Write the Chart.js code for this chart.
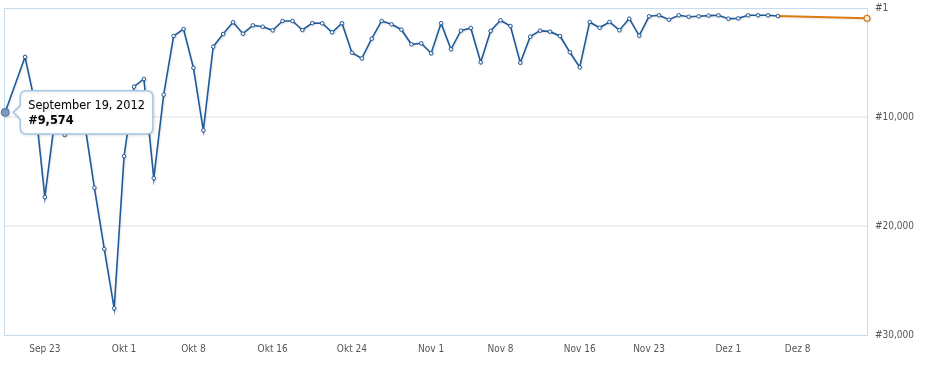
<!DOCTYPE html>
<html>
<head>
<meta charset="utf-8">
<script src="https://cdn.jsdelivr.net/npm/chart.js@4"></script>
<style>
  html, body { margin: 0; padding: 0; background: #fff; }
  #wrap { width: 938px; height: 374px; }
</style>
</head>
<body>
<div id="wrap"><canvas id="graficoRang" width="938" height="374"></canvas></div>
<script>
// Daily rank, one value per day from Sep 19, 2012 (null = no data that day)
const startDate = new Date(2012, 8, 19);
const rankDaily = [
  9574, null, 4495, 8700, 17340, 10300, 11650, 9200, 10460, 16480,
  22110, 27550, 13600, 7220, 6510, 15620, 7950, 2570, 1930, 5480,
  11220, 3550, 2390, 1310, 2360, 1590, 1720, 2050, 1190, 1190,
  2020, 1380, 1400, 2230, 1400, 4100, 4620, 2820, 1190, 1500,
  1990, 3330, 3240, 4160, 1400, 3790, 2080, 1830, 4980, 2110,
  1130, 1650, 5020, 2630, 2080, 2170, 2570, 4060, 5440, 1280,
  1810, 1280, 2040, 980, 2540, 760, 670, 1070, 670, 800,
  760, 700, 670, 980, 950, 670, 670, 670, 740
];
// Forecast segment (orange)
const forecastDays = [78, 87];
const forecastRank = [740, 950];

// X axis ticks (day offsets from start) and their labels
const tickDays = [4, 12, 19, 27, 35, 43, 50, 58, 65, 73, 80];
const tickLabels = ['Sep 23', 'Okt 1', 'Okt 8', 'Okt 16', 'Okt 24', 'Nov 1', 'Nov 8', 'Nov 16', 'Nov 23', 'Dez 1', 'Dez 8'];
// Y axis ticks
const rankTicks = [1, 10000, 20000, 30000];

const monthNames = ['January', 'February', 'March', 'April', 'May', 'June', 'July',
  'August', 'September', 'October', 'November', 'December'];

const fontFam = "'DejaVu Sans Condensed', 'DejaVu Sans', sans-serif";

function fechaLarga(day) {
  const d = new Date(startDate.getFullYear(), startDate.getMonth(), startDate.getDate() + day);
  return monthNames[d.getMonth()] + ' ' + d.getDate() + ', ' + d.getFullYear();
}

function formatoRang(v) {
  return '#' + Math.round(v).toLocaleString('en-US');
}

// border around the plot area + soft shadow under the lines
const marcoPlugin = {
  id: 'marco',
  beforeDatasetsDraw(chart) {
    const { ctx } = chart;
    ctx.save();
    ctx.shadowColor = 'rgba(0,0,0,0.10)';
    ctx.shadowBlur = 2;
    ctx.shadowOffsetX = 1;
    ctx.shadowOffsetY = 1;
  },
  afterDatasetsDraw(chart) {
    chart.ctx.restore();
  },
  beforeTooltipDraw(chart) {
    const { ctx } = chart;
    ctx.save();
    ctx.shadowColor = 'rgba(0,0,0,0.10)';
    ctx.shadowBlur = 3;
    ctx.shadowOffsetX = 1;
    ctx.shadowOffsetY = 1;
  },
  afterTooltipDraw(chart) {
    chart.ctx.restore();
  },
  beforeDraw(chart) {
    const { ctx, chartArea: a } = chart;
    ctx.save();
    ctx.strokeStyle = '#c4dcef';
    ctx.lineWidth = 1;
    ctx.strokeRect(Math.round(a.left) - 0.5, Math.round(a.top) + 0.5,
      Math.round(a.right - a.left) + 1, Math.round(a.bottom - a.top));
    ctx.restore();
  }
};

const ctx = document.getElementById('graficoRang').getContext('2d');

const chart = new Chart(ctx, {
  type: 'line',
  data: {
    datasets: [
      {
        label: 'Rang',
        data: rankDaily.map((v, i) => ({ x: i, y: v })),
        spanGaps: true,
        borderColor: '#1f5a99',
        borderWidth: 1.6,
        backgroundColor: '#ffffff',
        pointRadius: 1.8,
        pointBorderWidth: 1,
        pointBorderColor: '#1f5a99',
        pointBackgroundColor: '#ffffff',
        pointHoverRadius: 4,
        pointHoverBorderWidth: 1,
        pointHoverBackgroundColor: '#7c9cc2',
        pointHoverBorderColor: '#4f77a6',
        tension: 0,
        clip: false
      },
      {
        label: 'Prognose',
        data: forecastRank.map((v, i) => ({ x: forecastDays[i], y: v })),
        borderColor: '#de7a10',
        borderWidth: 2,
        pointRadius: [0, 3],
        pointBorderWidth: 1.2,
        pointBorderColor: '#de7a10',
        pointBackgroundColor: '#ffffff',
        tension: 0,
        clip: false
      }
    ]
  },
  options: {
    responsive: false,
    animation: false,
    events: [],
    layout: { padding: { left: 5, top: 8, right: 0, bottom: 0 } },
    scales: {
      x: {
        type: 'linear',
        min: 0,
        max: 87,
        afterBuildTicks: (axis) => { axis.ticks = tickDays.map(v => ({ value: v })); },
        afterFit: (axis) => { axis.height = 39; },
        grid: { display: false, drawTicks: false },
        border: { display: false },
        ticks: {
          padding: 8,
          color: '#555',
          font: { family: fontFam, size: 10 },
          maxRotation: 0,
          autoSkip: false,
          callback: (v) => tickLabels[tickDays.indexOf(v)]
        }
      },
      y: {
        position: 'right',
        reverse: true,
        min: 1,
        max: 30000,
        afterBuildTicks: (axis) => { axis.ticks = rankTicks.map(v => ({ value: v })); },
        afterFit: (axis) => {
          axis.width = 71;
          // labels may overhang the plot, do not shrink it for them
          axis.paddingTop = 0;
          axis.paddingBottom = 0;
        },
        grid: {
          drawTicks: false,
          lineWidth: 2,
          color: (c) => (c.index === 0 || c.index === rankTicks.length - 1) ? 'rgba(0,0,0,0)' : '#f0f0f0'
        },
        border: { display: false },
        ticks: {
          padding: 8,
          color: '#555',
          font: { family: fontFam, size: 10 },
          callback: (v) => formatoRang(v)
        }
      }
    },
    plugins: {
      legend: { display: false },
      tooltip: {
        enabled: true,
        backgroundColor: '#ffffff',
        borderColor: '#a3c7e5',
        borderWidth: 1.5,
        cornerRadius: 6,
        caretSize: 7,
        caretPadding: 8,
        xAlign: 'left',
        yAlign: 'center',
        displayColors: false,
        padding: { left: 8, right: 8, top: 7, bottom: 6 },
        titleMarginBottom: 0,
        titleColor: '#000',
        bodyColor: '#000',
        titleFont: { family: fontFam, size: 12.6, weight: 'normal' },
        bodyFont: { family: fontFam, size: 12.6, weight: 'bold' },
        callbacks: {
          title: (items) => fechaLarga(items[0].parsed.x),
          label: (item) => formatoRang(item.parsed.y)
        }
      }
    }
  },
  plugins: [marcoPlugin]
});

// Show the tooltip on the first day, like the original
const activo = [{ datasetIndex: 0, index: 0 }];
chart.setActiveElements(activo);
chart.tooltip.setActiveElements(activo, { x: 0, y: 0 });
chart.update('none');
</script>
</body>
</html>
